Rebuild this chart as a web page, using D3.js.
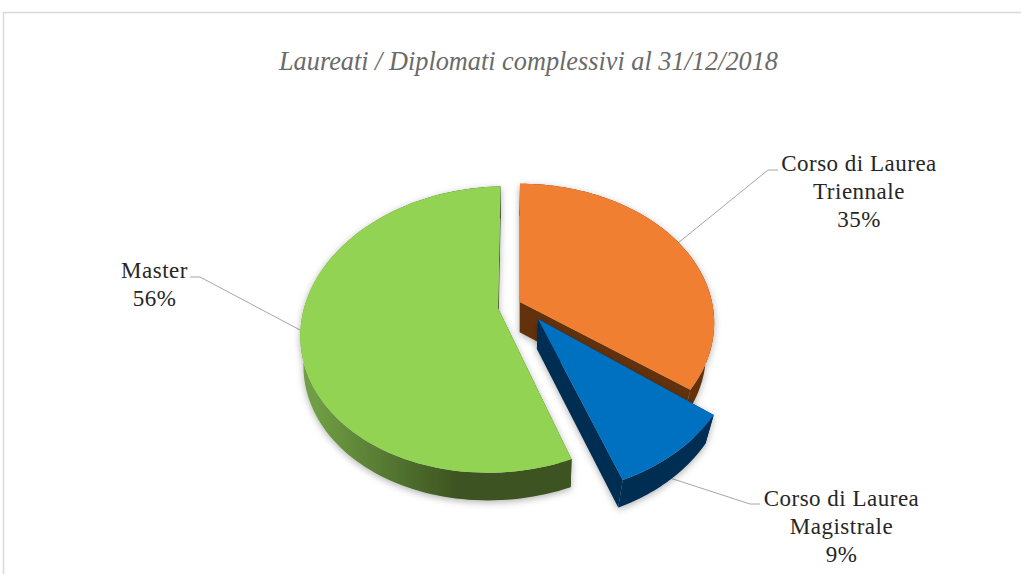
<!DOCTYPE html>
<html>
<head>
<meta charset="utf-8">
<script src="https://cdn.jsdelivr.net/npm/d3@7/dist/d3.min.js"></script>
<style>
  html, body { margin: 0; padding: 0; background: #fff; }
  svg { display: block; }
  text { font-family: "Liberation Serif", serif; fill: #262626; }
  .title { font-style: italic; fill: #6a6a6a; font-size: 28px; }
  .label { font-size: 23px; letter-spacing: 0.5px; }
</style>
</head>
<body>
<svg id="chart" width="1021" height="574"></svg>
<script>
// Data
const categories = ["Corso di Laurea Triennale", "Corso di Laurea Magistrale", "Master"];
const shares = [35, 9, 56];
const labelLines = [["Corso di Laurea", "Triennale", "35%"], ["Corso di Laurea", "Magistrale", "9%"], ["Master", "56%"]];
const chartTitle = "Laureati / Diplomati complessivi al 31/12/2018";

// Config
const WIDTH = 1021, HEIGHT = 574;
const TILT = 0.15; // disc seen in perspective
const VANISH_X = 510, DEPTH = 30;

const sliceStyle = [
  { top: "#f07f31", wall: ["#63330f", "#63330f"], tip: [520, 302], rx: 192, ry: 136, lean: 0, trim: 0, squeeze: 0.96,
    leader: [[678, 243], [768, 170], [778, 170]], label: [859, 171] },
  { top: "#0070c0", wall: ["#002d52", "#002d52"], tip: [538, 319], rx: 198, ry: 149, lean: 0, trim: 0, squeeze: 0.96,
    leader: [[670, 478], [750, 504], [760, 504]], label: [841.5, 506] },
  { top: "#93d353", wall: ["#6f9e44", "#3c5220"], tip: [498, 308], rx: 194, ry: 140, lean: -0.3, trim: 0.03, squeeze: 0.985,
    leader: [[300, 330], [200, 277], [190, 277]], label: [154.5, 278] },
];

const svg = d3.select("#chart");

const defs = svg.append("defs");
const shadow = defs.append("filter").attr("id", "soft").attr("x", "-10%").attr("y", "-10%").attr("width", "120%").attr("height", "120%");
shadow.append("feDropShadow").attr("dx", 0).attr("dy", 2).attr("stdDeviation", 3.5).attr("flood-color", "#000").attr("flood-opacity", 0.3);

// Frame
svg.append("path").attr("d", `M3.5,${HEIGHT}V12.5H${WIDTH}`).attr("fill", "none").attr("stroke", "#d9d9d9").attr("stroke-width", 1.5);

svg.append("text").attr("class", "title").attr("x", 528.5).attr("y", 70).attr("text-anchor", "middle")
  .attr("textLength", 499).attr("lengthAdjust", "spacingAndGlyphs").text(chartTitle);

// Top face point at pie angle a, relative to the slice's own tip
function topPoint(style, a) {
  const u = Math.sin(a), v = -Math.cos(a), w = 1 - TILT * v;
  const x = style.tip[0] + style.rx * ((u + style.lean) / w - style.lean);
  const y = style.tip[1] + (style.ry * v) / w;
  return [x, y];
}

// Matching point on the lower rim
function lowPoint(p, squeeze) {
  return [VANISH_X + (p[0] - VANISH_X) * squeeze, p[1] + DEPTH - (p[1] - 320) * 0.015];
}

const line = d3.line();
const slices = d3.pie().sort(null)(shares).map((s, i) => ({ ...s, style: sliceStyle[i], index: i }));

// Leaders first, they run behind the pie
slices.forEach((s) => {
  svg.append("path").attr("d", line(s.style.leader)).attr("fill", "none").attr("stroke", "#a6a6a6").attr("stroke-width", 1);
});

// Master is drawn first, blue last
[2, 0, 1].forEach((i) => {
  const s = slices[i];
  const st = s.style;
  const low = (p) => lowPoint(p, st.squeeze);
  const g = svg.append("g").attr("filter", "url(#soft)");
  const end = s.endAngle - st.trim;
  const angles = d3.range(0, 121).map((k) => s.startAngle + ((end - s.startAngle) * k) / 120);
  const rim = angles.map((a) => topPoint(st, a));

  const gradId = `wall-${i}`;
  const grad = defs.append("linearGradient").attr("id", gradId).attr("gradientUnits", "userSpaceOnUse")
    .attr("x1", 315).attr("x2", 460).attr("y1", 0).attr("y2", 0);
  grad.append("stop").attr("offset", 0).attr("stop-color", st.wall[0]);
  grad.append("stop").attr("offset", 1).attr("stop-color", st.wall[1]);

  // radial walls
  const tip = st.tip;
  [rim[0], rim[rim.length - 1]].forEach((p) => {
    g.append("path")
      .attr("d", line([tip, p, low(p), low(tip)]) + "Z")
      .attr("fill", st.wall[1]);
  });
  // outer wall
  g.append("path")
    .attr("d", line(rim.concat(rim.map(low).reverse())) + "Z")
    .attr("fill", `url(#${gradId})`);
  // top face
  g.append("path").attr("d", line([tip].concat(rim)) + "Z").attr("fill", st.top);
});

// Labels
slices.forEach((s) => {
  const [x, y] = s.style.label;
  const t = svg.append("text").attr("class", "label").attr("text-anchor", "middle");
  labelLines[s.index].forEach((txt, j) => {
    t.append("tspan").attr("x", x).attr("y", y + j * 28).text(txt);
  });
});
</script>
</body>
</html>
